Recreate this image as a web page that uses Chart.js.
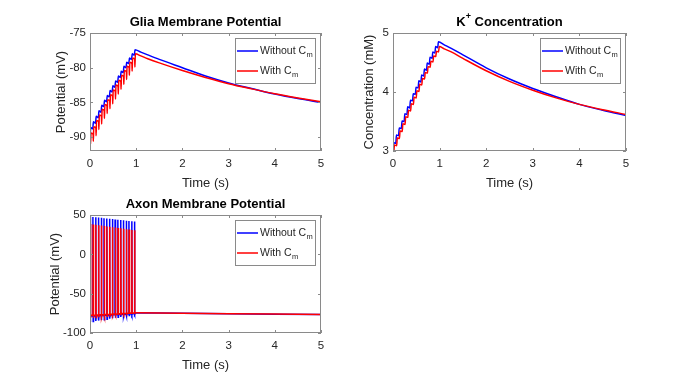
<!DOCTYPE html>
<html>
<head>
<meta charset="utf-8">
<script src="https://cdn.jsdelivr.net/npm/chart.js@4.4.1/dist/chart.umd.min.js"></script>
<style>
  body { margin: 0; background: #fff; }
  #wrap { position: relative; width: 692px; height: 382px; background: #fff; }
  canvas { position: absolute; }
</style>
</head>
<body>
<div id="wrap">
  <canvas id="glia" width="346" height="191" style="left:0;top:0"></canvas>
  <canvas id="kconc" width="346" height="191" style="left:346px;top:0"></canvas>
  <canvas id="axon" width="346" height="191" style="left:0;top:191px"></canvas>
</div>
<script>
// shared time axis
const xTicks = [0, 1, 2, 3, 4, 5];
const pulseTimes = [0.00, 0.06, 0.12, 0.18, 0.24, 0.30, 0.36, 0.42, 0.48, 0.54, 0.60, 0.66, 0.72, 0.78, 0.84, 0.90, 0.96];
const decayTimes = [1.1, 1.25, 1.5, 2.0, 2.5, 3.0, 3.5, 4.0, 4.5, 5.0];

// glia membrane potential (mV)
const gliaTicks = [-90, -85, -80, -75];
const gliaLowWithout = [-91.0, -88.8, -88.0, -87.2, -86.4, -85.6, -84.9, -84.2, -83.5, -82.8, -82.1, -81.4, -80.7, -80.0, -79.4, -78.8, -78.2];
const gliaHighWithout = [-88.6, -87.8, -87.0, -86.2, -85.4, -84.7, -84.0, -83.3, -82.6, -81.9, -81.2, -80.5, -79.8, -79.2, -78.6, -78.0, -77.4];
const gliaLowWith = [-90.4, -89.6, -88.7, -87.8, -87.0, -86.2, -85.5, -84.8, -84.1, -83.4, -82.7, -82.0, -81.3, -80.6, -80.0, -79.4, -78.8];
const gliaDipWith = [-91.0, -90.6, -89.8, -88.9, -88.1, -87.3, -86.6, -85.9, -85.2, -84.5, -83.8, -83.1, -82.4, -81.7, -81.1, -80.5, -79.9];
const gliaHighWith = [-89.4, -88.5, -87.6, -86.8, -86.0, -85.3, -84.6, -83.9, -83.2, -82.5, -81.8, -81.1, -80.4, -79.8, -79.2, -78.6, -78.0];
const gliaDecayWithout = [-77.75, -78.15, -78.8, -80.0, -81.2, -82.2, -83.0, -83.8, -84.45, -85.0];
const gliaDecayWith = [-78.3, -78.7, -79.3, -80.4, -81.4, -82.3, -83.05, -83.75, -84.35, -84.9];

// K+ concentration (mM)
const kTicks = [3, 4, 5];
const kLowWithout = [3.00, 3.13, 3.26, 3.38, 3.50, 3.62, 3.73, 3.85, 3.96, 4.07, 4.17, 4.27, 4.37, 4.47, 4.57, 4.66, 4.75];
const kHighWithout = [3.14, 3.27, 3.39, 3.51, 3.63, 3.75, 3.86, 3.97, 4.08, 4.19, 4.29, 4.39, 4.49, 4.59, 4.68, 4.77, 4.85];
const kLowWith = [3.00, 3.09, 3.21, 3.33, 3.45, 3.57, 3.68, 3.79, 3.90, 4.01, 4.12, 4.22, 4.32, 4.42, 4.51, 4.60, 4.68];
const kHighWith = [3.10, 3.22, 3.34, 3.46, 3.58, 3.69, 3.80, 3.91, 4.02, 4.13, 4.23, 4.33, 4.43, 4.52, 4.61, 4.69, 4.77];
const kDecayWithout = [4.80, 4.74, 4.63, 4.41, 4.22, 4.06, 3.92, 3.79, 3.69, 3.60];
const kDecayWith = [4.73, 4.68, 4.57, 4.36, 4.18, 4.03, 3.90, 3.79, 3.70, 3.62];

// axon membrane potential (mV)
const axonTicks = [-100, -50, 0, 50];
const axonRestWithout = [-78.5, -78.3, -78.1, -77.9, -77.7, -77.5, -77.3, -77.1, -76.9, -76.7, -76.5, -76.3, -76.1, -75.9, -75.7, -75.5, -75.3];
const axonPeakWithout = [48, 47.6, 47.2, 46.8, 46.4, 46, 45.6, 45.2, 44.8, 44.4, 44, 43.6, 43.2, 42.8, 42.4, 42, 41.6];
const axonTroughWithout = [-86, -85.4, -84.8, -84.2, -83.6, -83, -82.4, -81.8, -81.2, -80.6, -80, -79.4, -78.8, -78.2, -77.6, -77, -76.4];
const axonRestWith = [-77.5, -77.3, -77.1, -76.9, -76.7, -76.5, -76.3, -76.1, -75.9, -75.7, -75.5, -75.3, -75.1, -74.9, -74.7, -74.5, -74.3];
const axonPeakWith = [38.5, 38, 37.5, 37, 36.5, 36, 35.5, 35, 34.5, 34, 33.5, 33, 32.5, 32, 31.5, 31, 30.5];
const axonTroughWith = [-81, -80.6, -80.2, -79.8, -79.4, -79, -78.6, -78.2, -77.8, -77.4, -77, -76.6, -76.2, -75.8, -75.4, -75, -74.6];
const axonTailTimes = [1.0, 2.0, 3.0, 4.0, 5.0];
const axonTailWithout = [-74.4, -75.0, -75.6, -76.1, -76.6];
const axonTailWith = [-74.3, -74.9, -75.5, -76.0, -76.5];

const FONT = "'Liberation Sans', Arial, sans-serif";
const TXT = "#262626";
const BLUE = "#0000ff";
const RED = "#ff0000";

// staircase: low before each pulse, high right after it, then the decay
function steps(lows, highs, decayV, lag, dips) {
  const pts = [];
  pulseTimes.forEach((t, i) => {
    pts.push({ x: t + lag, y: lows[i] });
    if (dips) pts.push({ x: t + lag + 0.004, y: dips[i] });
    pts.push({ x: t + lag + 0.014, y: highs[i] });
  });
  decayTimes.forEach((t, i) => pts.push({ x: t, y: decayV[i] }));
  return pts;
}

function spikes(rest, peak, trough, tailV, lag) {
  const pts = [];
  pulseTimes.forEach((t, i) => {
    pts.push({ x: t + lag, y: rest[i] });
    pts.push({ x: t + lag + 0.003, y: peak[i] });
    pts.push({ x: t + lag + 0.009, y: trough[i] });
    pts.push({ x: t + lag + 0.016, y: rest[i] });
  });
  axonTailTimes.forEach((t, i) => pts.push({ x: t, y: tailV[i] }));
  return pts;
}

const decor = {
  id: "decor",
  afterDraw(chart) {
    const o = chart.options.plugins.decor;
    const { ctx, chartArea: a } = chart;
    const xs = chart.scales.x, ys = chart.scales.y;
    ctx.save();
    ctx.strokeStyle = "#8a8a8a";
    ctx.lineWidth = 1;
    ctx.strokeRect(a.left + 0.5, a.top + 0.5, a.width - 1, a.height - 1);
    ctx.beginPath();
    xTicks.forEach(v => {
      const px = Math.round(xs.getPixelForValue(v)) + 0.5;
      ctx.moveTo(px, a.bottom); ctx.lineTo(px, a.bottom - 3);
      ctx.moveTo(px, a.top); ctx.lineTo(px, a.top + 3);
    });
    o.yTicks.forEach(v => {
      const py = Math.round(ys.getPixelForValue(v)) + 0.5;
      ctx.moveTo(a.left, py); ctx.lineTo(a.left + 3, py);
      ctx.moveTo(a.right, py); ctx.lineTo(a.right - 3, py);
    });
    ctx.stroke();

    // title, with optional superscript pieces
    ctx.fillStyle = "#000";
    ctx.textBaseline = "middle";
    const cx = (a.left + a.right) / 2;
    let total = 0;
    o.title.forEach(p => {
      ctx.font = "bold " + (p.sup ? 9 : 13) + "px " + FONT;
      total += ctx.measureText(p.text).width;
    });
    let tx = cx - total / 2;
    const ty = a.top - 11;
    o.title.forEach(p => {
      ctx.font = "bold " + (p.sup ? 9 : 13) + "px " + FONT;
      ctx.textAlign = "left";
      ctx.fillText(p.text, tx, p.sup ? ty - 5 : ty);
      tx += ctx.measureText(p.text).width;
    });

    // axis labels
    ctx.fillStyle = TXT;
    ctx.font = "13px " + FONT;
    ctx.textAlign = "center";
    ctx.fillText("Time (s)", cx, a.bottom + 32);
    ctx.save();
    ctx.translate(a.left - o.yLabelGap, (a.top + a.bottom) / 2);
    ctx.rotate(-Math.PI / 2);
    ctx.fillText(o.yLabel, 0, 0);
    ctx.restore();

    // legend
    const lw = 80, lh = 45;
    const lx = a.right - 6 - lw, ly = a.top + 5;
    ctx.fillStyle = "#fff";
    ctx.fillRect(lx, ly, lw, lh);
    ctx.strokeStyle = "#8a8a8a";
    ctx.strokeRect(lx + 0.5, ly + 0.5, lw, lh);
    chart.data.datasets.forEach((ds, i) => {
      const ey = ly + 13 + i * 20;
      ctx.strokeStyle = ds.borderColor;
      ctx.lineWidth = 1.5;
      ctx.beginPath();
      ctx.moveTo(lx + 2, ey); ctx.lineTo(lx + 23, ey);
      ctx.stroke();
      ctx.fillStyle = TXT;
      ctx.textAlign = "left";
      ctx.font = "10.5px " + FONT;
      ctx.fillText(ds.label, lx + 25, ey);
      const w = ctx.measureText(ds.label).width;
      ctx.font = "7.5px " + FONT;
      ctx.fillText(ds.sub, lx + 25 + w + 0.5, ey + 4);
    });
    ctx.restore();
  }
};

function makeChart(id, cfg) {
  const cv = document.getElementById(id);
  const H = cv.height;
  return new Chart(cv, {
    type: "line",
    data: {
      datasets: [
        { label: "Without C", sub: "m", data: cfg.without, borderColor: BLUE, order: 1 },
        { label: "With C", sub: "m", data: cfg.withC, borderColor: RED, order: 0 }
      ]
    },
    options: {
      responsive: false,
      animation: false,
      devicePixelRatio: 1,
      layout: { padding: { top: cfg.top, right: cfg.right, left: 0, bottom: 0 } },
      elements: {
        point: { radius: 0 },
        line: { borderWidth: 1.5, tension: 0, cubicInterpolationMode: cfg.mode }
      },
      scales: {
        x: {
          type: "linear", min: 0, max: 5,
          afterBuildTicks: s => { s.ticks = xTicks.map(v => ({ value: v })); },
          afterFit: s => { s.height = H - cfg.bottom; },
          grid: { display: false, drawTicks: false },
          border: { display: false },
          ticks: { padding: 6, color: TXT, font: { family: FONT, size: 11.5 }, maxRotation: 0, autoSkip: false }
        },
        y: {
          type: "linear", min: cfg.ymin, max: cfg.ymax,
          afterBuildTicks: s => { s.ticks = cfg.yTicks.map(v => ({ value: v })); },
          afterFit: s => { s.width = cfg.left; },
          grid: { display: false, drawTicks: false },
          border: { display: false },
          ticks: { padding: 4, color: TXT, font: { family: FONT, size: 11.5 }, autoSkip: false }
        }
      },
      plugins: {
        legend: { display: false },
        tooltip: { enabled: false },
        decor: { title: cfg.title, yLabel: cfg.yLabel, yLabelGap: cfg.gap, yTicks: cfg.yTicks }
      }
    },
    plugins: [decor]
  });
}

makeChart("glia", {
  without: steps(gliaLowWithout, gliaHighWithout, gliaDecayWithout, 0, null),
  withC: steps(gliaLowWith, gliaHighWith, gliaDecayWith, 0.008, gliaDipWith),
  ymin: -92, ymax: -75, yTicks: gliaTicks, mode: "monotone",
  top: 33, bottom: 151, left: 90, right: 25,
  title: [{ text: "Glia Membrane Potential" }],
  yLabel: "Potential (mV)", gap: 29
});

makeChart("kconc", {
  without: steps(kLowWithout, kHighWithout, kDecayWithout, 0, null),
  withC: steps(kLowWith, kHighWith, kDecayWith, 0.018, null),
  ymin: 3, ymax: 5, yTicks: kTicks, mode: "monotone",
  top: 33, bottom: 151, left: 47, right: 66,
  title: [{ text: "K" }, { text: "+", sup: true }, { text: " Concentration" }],
  yLabel: "Concentration (mM)", gap: 24
});

makeChart("axon", {
  without: spikes(axonRestWithout, axonPeakWithout, axonTroughWithout, axonTailWithout, 0),
  withC: spikes(axonRestWith, axonPeakWith, axonTroughWith, axonTailWith, 0.004),
  ymin: -100, ymax: 50, yTicks: axonTicks, mode: "default",
  top: 24, bottom: 142, left: 90, right: 25,
  title: [{ text: "Axon Membrane Potential" }],
  yLabel: "Potential (mV)", gap: 35
});
</script>
</body>
</html>
